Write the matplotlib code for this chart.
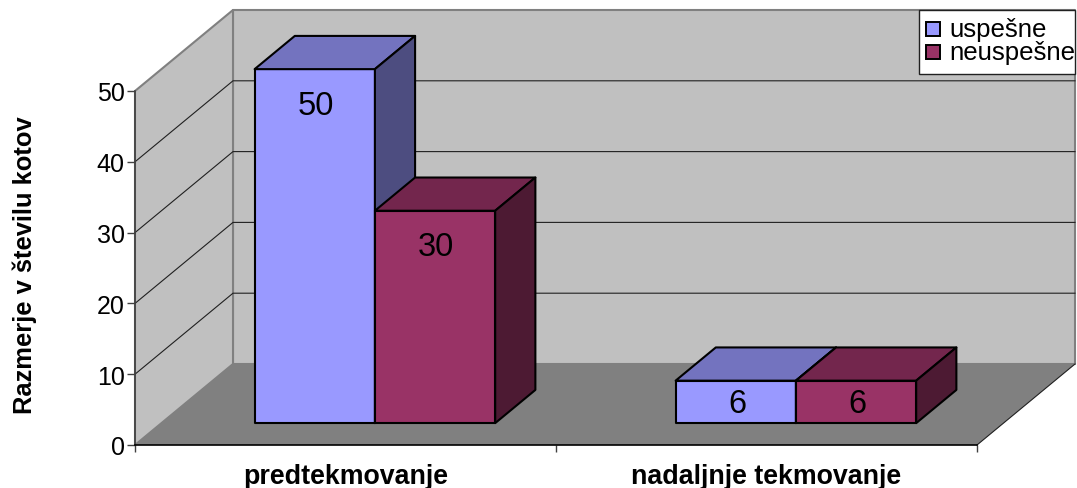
#!/usr/bin/env python3
"""Excel style pseudo-3D column chart, drawn with flat polygons."""

import matplotlib
matplotlib.use("Agg")
import matplotlib.pyplot as plt
from matplotlib.patches import Polygon, Rectangle

plt.rcParams["font.family"] = ["Liberation Sans", "DejaVu Sans"]

categories = ["predtekmovanje", "nadaljnje tekmovanje"]
series_names = ["uspešne", "neuspešne"]
uspesne = [50, 6]
neuspesne = [30, 6]
y_ticks = [0, 10, 20, 30, 40, 50]
y_label = "Razmerje v številu kotov"

W, H = 1077, 489
LEFT, RIGHT, TOP, BOTTOM = 135, 977, 92, 446

# depth vector of the oblique projection, in data units
DX = 98 / ((RIGHT - LEFT) / 2)
DY = 81 / ((BOTTOM - TOP) / 50)
BAR_W = 1 / 3.5
BAR_SHIFT = 0.007
D0, D1 = 0.27, 0.68

WALL = "#c0c0c0"
FLOOR = "#808080"
EDGE = "#808080"
FACES = [("#9999ff", "#7373bf", "#4d4d80"),
         ("#993366", "#73264d", "#4d1a33")]


def proj(x, v, d=0.0):
    return x + d * DX, v + d * DY


def face(ax, pts, color, edge="black", lw=1.5, z=2):
    ax.add_patch(Polygon([proj(*p) for p in pts], closed=True, facecolor=color,
                         edgecolor=edge, lw=lw, clip_on=False, zorder=z,
                         joinstyle="round"))


def draw_walls(ax):
    x_max = len(categories)
    top = y_ticks[-1]
    face(ax, [(0, 0, 1), (x_max, 0, 1), (x_max, top, 1), (0, top, 1)], WALL, EDGE, 1.5, 1)
    face(ax, [(0, 0, 0), (0, 0, 1), (0, top, 1), (0, top, 0)], WALL, EDGE, 1.5, 1)
    face(ax, [(0, 0, 0), (x_max, 0, 0), (x_max, 0, 1), (0, 0, 1)], FLOOR, "none", 0, 1.1)
    # right hand floor edge
    xs, ys = zip(proj(x_max, 0, 0), proj(x_max, 0, 1))
    ax.plot(xs, ys, color="#202020", lw=0.8, clip_on=False, zorder=1.2)
    for t in y_ticks[1:-1]:
        xs, ys = zip(proj(0, t, 0), proj(0, t, 1), proj(x_max, t, 1))
        ax.plot(xs, ys, color="#202020", lw=0.8, clip_on=False, zorder=1.2)


def draw_bar(ax, x, v, colors):
    front, upper, side = colors
    x2 = x + BAR_W
    face(ax, [(x, 0, D0), (x2, 0, D0), (x2, v, D0), (x, v, D0)], front)
    face(ax, [(x, v, D0), (x2, v, D0), (x2, v, D1), (x, v, D1)], upper)
    face(ax, [(x2, 0, D0), (x2, 0, D1), (x2, v, D1), (x2, v, D0)], side)
    # label sits near the top of tall bars, mid-face on short ones
    tx, ty = proj(x + BAR_W / 2 + 0.003, v - min(5.1, v / 2 + 0.2), D0)
    ax.text(tx, ty, str(v), ha="center", va="center", fontsize=23.5, color="black",
            zorder=3)


def draw_legend(fig):
    # placed by hand: the text nearly touches the right edge of the box
    def fx(px):
        return px / W

    def fy(py):
        return 1 - py / H

    box = Rectangle((fx(919), fy(75)), 156 / W, 64 / H, transform=fig.transFigure,
                    facecolor="white", edgecolor="#202020", lw=1.0, zorder=10)
    fig.add_artist(box)
    for k, name in enumerate(series_names):
        yc = 30 + k * 23
        fig.add_artist(Rectangle((fx(926), fy(yc + 7)), 14 / W, 14 / H,
                                 transform=fig.transFigure, facecolor=FACES[k][0],
                                 edgecolor="black", lw=1.4, zorder=11))
        fig.text(fx(949), fy(yc), name, ha="left", va="center", fontsize=18.6, zorder=11)


fig = plt.figure(figsize=(W / 100, H / 100), dpi=100)
ax = fig.add_axes([LEFT / W, 1 - BOTTOM / H, (RIGHT - LEFT) / W, (BOTTOM - TOP) / H])
ax.patch.set_visible(False)
ax.set_xlim(0, len(categories))
ax.set_ylim(y_ticks[0], y_ticks[-1])

draw_walls(ax)
for i, vals in enumerate(zip(uspesne, neuspesne)):
    start = i + 0.5 - BAR_W + BAR_SHIFT
    for j, v in enumerate(vals):
        draw_bar(ax, start + j * BAR_W, v, FACES[j])

for s in ("top", "right"):
    ax.spines[s].set_visible(False)
ax.spines["left"].set_color("#404040")
ax.spines["left"].set_linewidth(1.2)
ax.spines["bottom"].set_color("black")
ax.spines["bottom"].set_linewidth(1.2)

ax.set_yticks(y_ticks)
ax.tick_params(axis="y", labelsize=18, length=6, width=1, color="#404040", pad=1.3)
ax.set_xticks(range(len(categories) + 1))
ax.set_xticklabels([])
ax.set_xticks([i + 0.5 for i in range(len(categories))], minor=True)
ax.set_xticklabels(categories, minor=True, fontsize=19.3, fontweight="bold")
ax.tick_params(axis="x", which="major", length=5, width=1, color="#404040")
ax.tick_params(axis="x", which="minor", length=0, pad=13)

fig.text(25 / W, 1 - 265 / H, y_label, rotation=90, ha="center", va="center",
         fontsize=18.4, fontweight="bold")

draw_legend(fig)

fig.savefig("out.png", dpi=100)
